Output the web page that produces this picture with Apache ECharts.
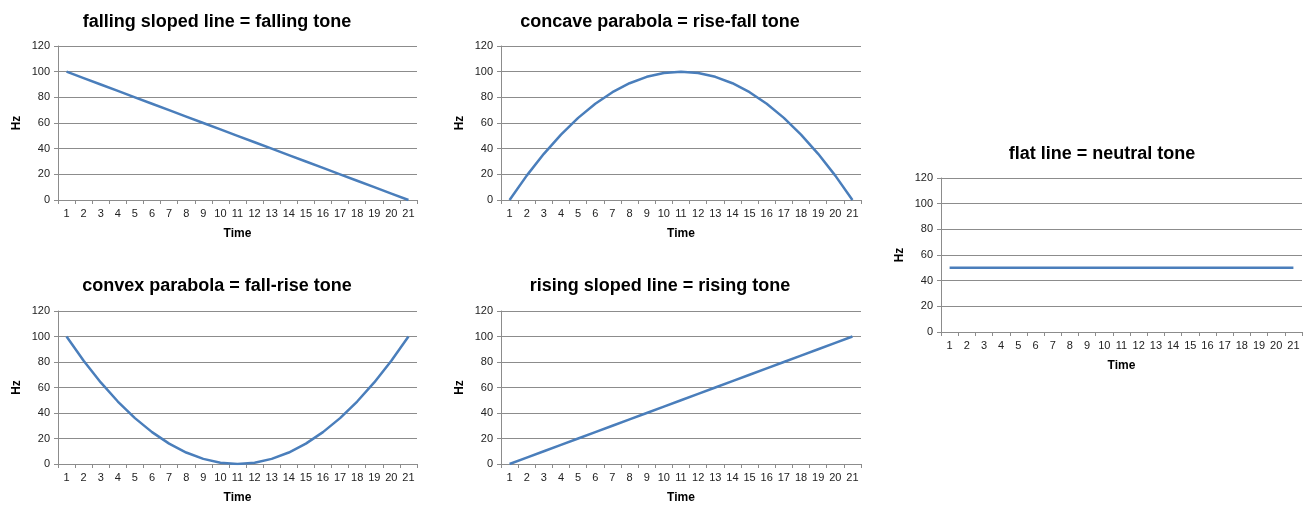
<!DOCTYPE html>
<html>
<head>
<meta charset="utf-8">
<script src="https://cdn.jsdelivr.net/npm/echarts@6/dist/echarts.min.js"></script>
<style>
  html, body { margin: 0; padding: 0; background: #fff; }
  #chart { width: 1304px; height: 505px; }
</style>
</head>
<body>
<div id="chart"></div>
<script>
var timeSteps = ['1','2','3','4','5','6','7','8','9','10','11','12','13','14','15','16','17','18','19','20','21'];
var yTicks = [0, 20, 40, 60, 80, 100, 120];

var fallingTone = [100, 95, 90, 85, 80, 75, 70, 65, 60, 55, 50, 45, 40, 35, 30, 25, 20, 15, 10, 5, 0];
var riseFallTone = [0, 19, 36, 51, 64, 75, 84, 91, 96, 99, 100, 99, 96, 91, 84, 75, 64, 51, 36, 19, 0];
var neutralTone = [50, 50, 50, 50, 50, 50, 50, 50, 50, 50, 50, 50, 50, 50, 50, 50, 50, 50, 50, 50, 50];
var fallRiseTone = [100, 81, 64, 49, 36, 25, 16, 9, 4, 1, 0, 1, 4, 9, 16, 25, 36, 49, 64, 81, 100];
var risingTone = [0, 5, 10, 15, 20, 25, 30, 35, 40, 45, 50, 55, 60, 65, 70, 75, 80, 85, 90, 95, 100];

var panels = [
    {title: 'falling sloped line = falling tone', data: fallingTone, grid: {left: 58, top: 46, width: 359, height: 154}, cx: 212, ty: 8},
    {title: 'concave parabola = rise-fall tone', data: riseFallTone, grid: {left: 501, top: 46, width: 360, height: 154}, cx: 655, ty: 8},
    {title: 'flat line = neutral tone', data: neutralTone, grid: {left: 941, top: 178, width: 361, height: 154}, cx: 1097, ty: 140},
    {title: 'convex parabola = fall-rise tone', data: fallRiseTone, grid: {left: 58, top: 311, width: 359, height: 153}, cx: 212, ty: 272},
    {title: 'rising sloped line = rising tone', data: risingTone, grid: {left: 501, top: 311, width: 360, height: 153}, cx: 655, ty: 272}
];

var fontFam = 'Liberation Sans, Arial, sans-serif';
var gridColor = '#8c8c8c';

var option = {
    animation: false,
    backgroundColor: '#fff',
    title: [], grid: [], xAxis: [], yAxis: [], series: []
};

panels.forEach(function (p, i) {
    option.title.push({
        text: p.title,
        left: p.cx, top: p.ty, textAlign: 'center',
        textStyle: {fontFamily: fontFam, fontSize: 18, fontWeight: 'bold', color: '#000'}
    });
    option.grid.push(p.grid);
    option.xAxis.push({
        type: 'category', gridIndex: i, data: timeSteps, boundaryGap: true,
        name: 'Time', nameLocation: 'middle', nameGap: 28,
        nameTextStyle: {fontFamily: fontFam, fontSize: 12, fontWeight: 'bold', color: '#000'},
        axisLine: {lineStyle: {color: gridColor, width: 1}},
        axisTick: {show: true, length: 4, lineStyle: {color: gridColor}},
        axisLabel: {interval: 0, fontFamily: fontFam, fontSize: 11, color: '#222', margin: 8},
        splitLine: {show: false}
    });
    option.yAxis.push({
        type: 'value', gridIndex: i, min: yTicks[0], max: yTicks[yTicks.length - 1], interval: 20,
        name: 'Hz', nameLocation: 'middle', nameGap: 35, nameRotate: 90,
        nameTextStyle: {fontFamily: fontFam, fontSize: 12, fontWeight: 'bold', color: '#000'},
        axisLine: {show: true, lineStyle: {color: gridColor, width: 1}},
        axisTick: {show: true, length: 4, lineStyle: {color: gridColor}},
        axisLabel: {fontFamily: fontFam, fontSize: 11, color: '#222', margin: 8},
        splitLine: {show: true, lineStyle: {color: gridColor, width: 1}}
    });
    option.series.push({
        type: 'line', xAxisIndex: i, yAxisIndex: i, data: p.data,
        smooth: false, symbol: 'none',
        lineStyle: {color: '#4a7ebb', width: 2.5},
        itemStyle: {color: '#4a7ebb'}
    });
});

var chart = echarts.init(document.getElementById('chart'));
chart.setOption(option);
</script>
</body>
</html>
